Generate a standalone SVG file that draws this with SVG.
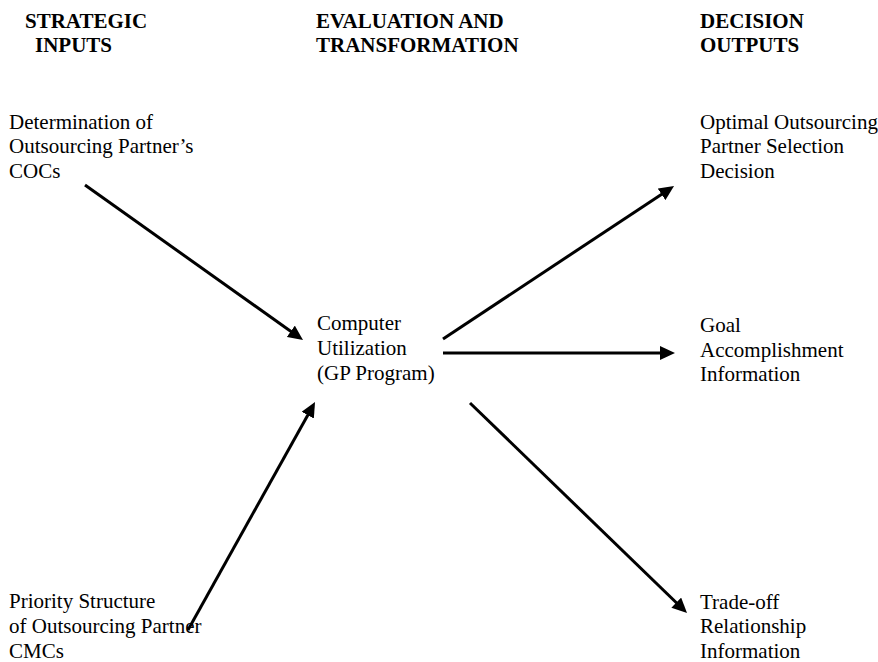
<svg xmlns="http://www.w3.org/2000/svg" width="878" height="662" viewBox="0 0 878 662">
  <style>
    .bg { fill: #ffffff; }
    .hd { font-family: "Liberation Serif", "Times New Roman", serif; font-size: 21px; font-weight: bold; fill: #000; }
    .tx { font-family: "Liberation Serif", "Times New Roman", serif; font-size: 21px; fill: #000; }
    .arrow { stroke: #000; stroke-width: 3; fill: none; marker-end: url(#head); }
  </style>
  <defs>
    <marker id="head" viewBox="0 0 15 14" refX="2" refY="7" markerWidth="15" markerHeight="14" markerUnits="userSpaceOnUse" orient="auto">
      <path d="M0,0 L15,7 L0,14 Z" fill="#000"/>
    </marker>
  </defs>
  <rect class="bg" x="0" y="0" width="878" height="662"/>

  <!-- column headings -->
  <g id="headings">
    <text class="hd" x="25" y="28">STRATEGIC</text>
    <text class="hd" x="35" y="52">INPUTS</text>
    <text class="hd" x="316" y="28">EVALUATION AND</text>
    <text class="hd" x="316" y="52">TRANSFORMATION</text>
    <text class="hd" x="700" y="28">DECISION</text>
    <text class="hd" x="700" y="52">OUTPUTS</text>
  </g>

  <!-- inputs -->
  <g id="coc-input">
    <text class="tx" x="9" y="129">Determination of</text>
    <text class="tx" x="9" y="153">Outsourcing Partner’s</text>
    <text class="tx" x="9" y="178">COCs</text>
  </g>
  <g id="cmc-input">
    <text class="tx" x="9" y="608">Priority Structure</text>
    <text class="tx" x="9" y="633">of Outsourcing Partner</text>
    <text class="tx" x="9" y="658">CMCs</text>
  </g>

  <!-- transformation -->
  <g id="gp-program">
    <text class="tx" x="317" y="330">Computer</text>
    <text class="tx" x="317" y="355">Utilization</text>
    <text class="tx" x="317" y="380">(GP Program)</text>
  </g>

  <!-- outputs -->
  <g id="selection-output">
    <text class="tx" x="700" y="129">Optimal Outsourcing</text>
    <text class="tx" x="700" y="153">Partner Selection</text>
    <text class="tx" x="700" y="178">Decision</text>
  </g>
  <g id="goal-output">
    <text class="tx" x="700" y="332">Goal</text>
    <text class="tx" x="700" y="357">Accomplishment</text>
    <text class="tx" x="700" y="381">Information</text>
  </g>
  <g id="tradeoff-output">
    <text class="tx" x="700" y="609">Trade-off</text>
    <text class="tx" x="700" y="633">Relationship</text>
    <text class="tx" x="700" y="658">Information</text>
  </g>

  <!-- connectors -->
  <g id="connectors">
    <line class="arrow" x1="85" y1="185" x2="292.4" y2="332.5"/>
    <line class="arrow" x1="188" y1="630" x2="308.7" y2="413.4"/>
    <line class="arrow" x1="443" y1="339" x2="663.2" y2="193.2"/>
    <line class="arrow" x1="443" y1="353" x2="662" y2="353"/>
    <line class="arrow" x1="470" y1="403" x2="677.7" y2="604"/>
  </g>
</svg>
